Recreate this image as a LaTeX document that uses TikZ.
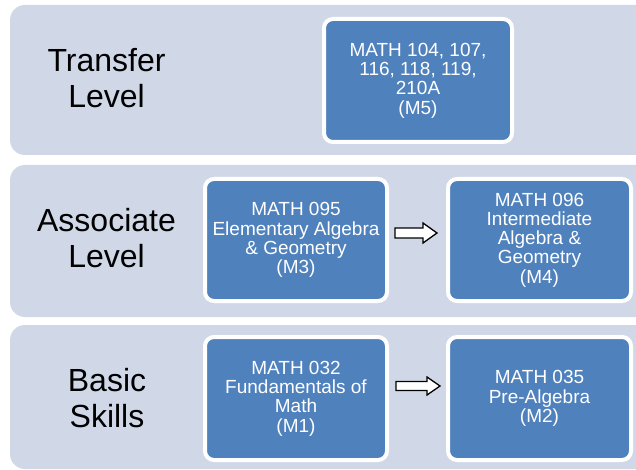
\documentclass[tikz,border=0pt]{standalone}
\usepackage{fontspec}
\setmainfont{Liberation Sans}
\usetikzlibrary{calc}
\definecolor{bandfill}{HTML}{D0D8E8}
\definecolor{boxblue}{HTML}{4F81BD}
\tikzset{
  band/.style={fill=bandfill, rounded corners=15pt},
  levellabel/.style={align=center, text=black, inner sep=0pt, font=\fontsize{32}{36.7}\selectfont},
  course/.style={rectangle, rounded corners=9pt, fill=boxblue, draw=white, line width=4pt,
    text=white, align=center, inner sep=0pt, outer sep=0pt,
    font=\fontsize{19}{19.3}\selectfont},
  hollow/.style={fill=white, draw=black, line width=1.3pt, line join=miter}
}
\begin{document}
\begin{tikzpicture}[x=1pt,y=-1pt]
\useasboundingbox (0,0) rectangle (636,470);
\fill[white] (0,0) rectangle (636,470);
\begin{scope}
\clip (0,0) rectangle (636,470);
\fill[band] (10,5) rectangle (660,155);
\fill[band] (10,165) rectangle (660,317);
\fill[band] (10,325) rectangle (660,469);
\end{scope}

\node[levellabel] (lt) at (106.5,78) {Transfer\\Level};
\node[levellabel] (la) at (106.5,238) {Associate\\Level};
\node[levellabel] (lb) at (107,398) {Basic\\Skills};

\node[course, minimum width=188pt, minimum height=123pt] (m5) at (418,80.5)
  {MATH 104, 107,\\116, 118, 119,\\210A\\(M5)};
\node[course, minimum width=182pt, minimum height=122pt] (m3) at (296,240)
  {MATH 095\\Elementary Algebra\\\& Geometry\\(M3)};
\node[course, minimum width=183pt, minimum height=122pt] (m4) at (539.5,240)
  {MATH 096\\Intermediate\\Algebra \&\\Geometry\\(M4)};
\node[course, minimum width=182pt, minimum height=123pt] (m1) at (296,398.5)
  {MATH 032\\Fundamentals of\\Math\\(M1)};
\node[course, minimum width=183pt, minimum height=123pt] (m2) at (539.5,398.5)
  {MATH 035\\Pre-Algebra\\(M2)};

\draw[hollow] let \p1=(m3.east), \p2=(m4.west) in
  (\x1+8pt,\y1+12pt) -- (\x2-25pt,\y1+12pt) -- (\x2-25pt,\y1+17pt) -- (\x2-11pt,\y1+7pt)
  -- (\x2-25pt,\y1-3pt) -- (\x2-25pt,\y1+2pt) -- (\x1+8pt,\y1+2pt) -- cycle;
\draw[hollow] let \p1=(m1.east), \p2=(m2.west) in
  (\x1+9pt,\y1+17pt) -- (\x2-21pt,\y1+17pt) -- (\x2-21pt,\y1+21.5pt) -- (\x2-8pt,\y1+12.5pt)
  -- (\x2-21pt,\y1+3.5pt) -- (\x2-21pt,\y1+8pt) -- (\x1+9pt,\y1+8pt) -- cycle;
\end{tikzpicture}
\end{document}
